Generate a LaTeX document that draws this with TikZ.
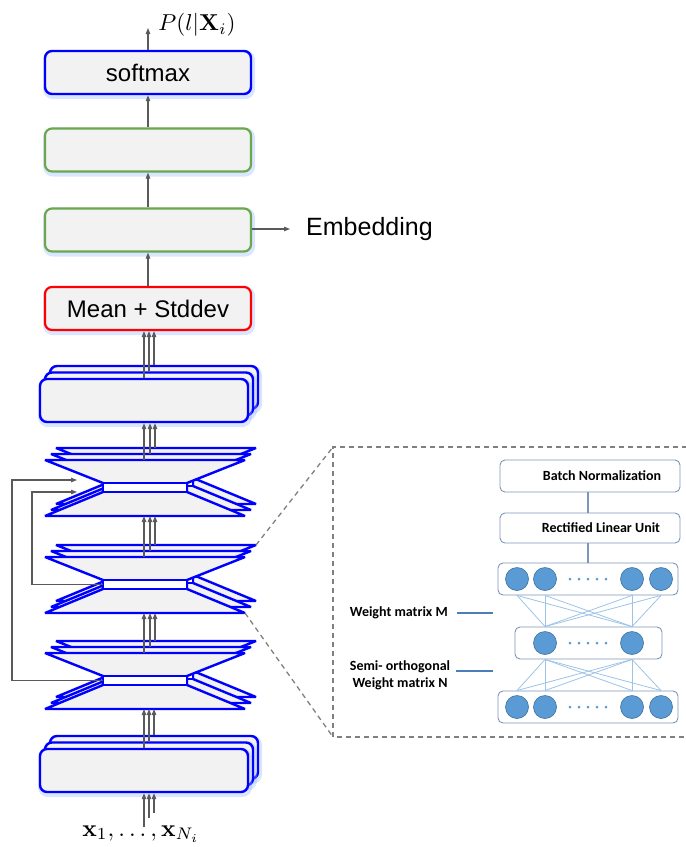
\documentclass[tikz,border=0pt]{standalone}
\usepackage[no-math]{fontspec}
\newfontfamily\arial{Liberation Sans}
\newfontfamily\calib{Carlito}
\usetikzlibrary{arrows.meta,calc}

\definecolor{netblue}{RGB}{0,0,255}
\definecolor{greenc}{RGB}{106,168,79}
\definecolor{redc}{RGB}{255,0,0}
\definecolor{boxfill}{RGB}{242,242,242}
\definecolor{arrc}{RGB}{90,90,90}
\definecolor{glowc}{RGB}{150,180,255}
\definecolor{dashc}{RGB}{128,128,128}
\definecolor{pedge}{RGB}{125,150,185}
\definecolor{neuc}{RGB}{91,155,213}
\definecolor{neuedge}{RGB}{65,113,156}
\definecolor{wirec}{RGB}{157,195,230}
\definecolor{tagline}{RGB}{74,126,187}

% one layer of the hourglass-shaped block, shifted by (#1,#2)
\newcommand{\hglayer}[2]{%
  \begin{scope}[shift={(#1,#2)}]
    \draw[hgline, fill=boxfill] (45,0) -- (245,0) -- (187,23) -- (187,32)
      -- (245,56) -- (45,56) -- (103,32) -- (103,23) -- cycle;
    \draw[hgline, fill=white] (103,23) rectangle (187,32);
  \end{scope}}

% three stacked hourglass layers with named anchor points
\newcommand{\hourglass}[2]{%
  \begin{scope}[shift={(0,#2)}]
    \hglayer{11}{-12}
    \hglayer{6}{-6}
    \hglayer{0}{0}
    \coordinate (#1t0) at (144,0);
    \coordinate (#1t1) at (150,-6);
    \coordinate (#1t2) at (155,-12);
    \coordinate (#1b) at (144,56);
    \coordinate (#1l) at (103,27.5);
    \coordinate (#1ne) at (256,-12);
    \coordinate (#1se) at (245,56);
  \end{scope}}

\begin{document}
\begin{tikzpicture}[x=1pt,y=-1pt,
  arr/.style={draw=arrc, line width=1.1pt, -{Triangle[length=6pt,width=4.5pt]}},
  glow/.style={preaction={draw=glowc, line width=6pt, opacity=0.35,
      transform canvas={yshift=-2pt,xshift=1pt}}},
  box/.style={draw, rounded corners=7pt, fill=boxfill, minimum width=206pt,
      minimum height=43pt, line width=2.2pt, inner sep=0pt,
      font=\arial\fontsize{24}{28}\selectfont, glow},
  bluebox/.style={box, draw=netblue, line width=2.4pt},
  greenbox/.style={box, draw=greenc},
  redbox/.style={box, draw=redc},
  layerbox/.style={bluebox, minimum width=208pt},
  hgline/.style={draw=netblue, line width=2.4pt, line join=miter, miter limit=4},
  dashline/.style={draw=dashc, line width=1.3pt, dash pattern=on 5pt off 4pt},
  pbox/.style={draw=pedge, rounded corners=5pt, line width=0.9pt, fill=white,
      inner sep=0pt, minimum height=32pt, font=\calib\bfseries\fontsize{14}{17}\selectfont},
  neuron/.style={circle, fill=neuc, draw=neuedge, line width=0.6pt,
      minimum size=23pt, inner sep=0pt},
  wire/.style={draw=wirec, line width=0.8pt},
  plabel/.style={font=\calib\bfseries\fontsize{14}{17}\selectfont, inner sep=0pt},
  tagstroke/.style={draw=tagline, line width=1.6pt}
]
\useasboundingbox (0,0) rectangle (686,847);

% ---- output head ----
\node[bluebox] (sm) at (148,72.5) {softmax};
\node[greenbox] (g1) at (148,150) {};
\node[greenbox] (g2) at (148,230) {};
\node[redbox] (mean) at (148,308.5) {Mean + Stddev};

\coordinate (pout) at (148,28);
\node[inner sep=0pt] (plab) at (197,25) {\scalebox{2.3}{$P(l|\mathbf{X}_i)$}};
\draw[arr] (sm.north) -- (pout);
\draw[arr] (g1.north) -- (sm.south);
\draw[arr] (g2.north) -- (g1.south);
\draw[arr] (mean.north) -- (g2.south);

\coordinate (emb) at (290,229);
\draw[arr] (g2.east |- emb) -- (emb);
\node[anchor=west, inner sep=0pt, font=\arial\fontsize{25}{30}\selectfont] (embt) at (306,229) {Embedding};

% ---- upper stacked layer ----
\node[layerbox] (u2) at (154,387.5) {};
\node[layerbox] (u1) at (149,394) {};
\node[layerbox] (u0) at (144,400.5) {};
\draw[arr] (u0.north) -- (u0.north |- mean.south);
\draw[arr] (u1.north) -- (u1.north |- mean.south);
\draw[arr] (u2.north) -- (u2.north |- mean.south);

% ---- hourglass blocks ----
\hourglass{hA}{460}
\hourglass{hB}{557}
\hourglass{hC}{653}

\foreach \k in {0,1,2} \draw[arr] (hAt\k) -- (hAt\k |- u0.south);
\foreach \k in {0,1,2} \draw[arr] (hBt\k) -- (hBt\k |- hAb);
\foreach \k in {0,1,2} \draw[arr] (hCt\k) -- (hCt\k |- hBb);

% ---- lower stacked layer ----
\node[layerbox] (d2) at (154,757.5) {};
\node[layerbox] (d1) at (149,764) {};
\node[layerbox] (d0) at (144,770.5) {};
\draw[arr] (d0.north) -- (d0.north |- hCb);
\draw[arr] (d1.north) -- (d1.north |- hCb);
\draw[arr] (d2.north) -- (d2.north |- hCb);

% ---- inputs ----
\coordinate (in0) at (144,827);
\coordinate (in1) at (149,818);
\coordinate (in2) at (154,813);
\draw[arr] (in0) -- (in0 |- d0.south);
\draw[arr] (in1) -- (in1 |- d0.south);
\draw[arr] (in2) -- (in2 |- d0.south);
\node[inner sep=0pt] (xin) at (141,834)
  {\scalebox{2.4}{$\mathbf{x}_1,\ldots,\mathbf{x}_{N_i}$}};

% ---- skip connections ----
\coordinate (sk1) at (77,480);
\coordinate (sk2) at (77,492);
\draw[arr] (hCl) -- ++(-91,0) |- (sk1);
\draw[arr] (hBl) -- ++(-71,0) |- (sk2);

% ---- detail panel ----
\coordinate (pnw) at (333,447);
\coordinate (psw) at (333,737);
\coordinate (pne) at (687,447);
\coordinate (pse) at (687,737);
\draw[dashline] (pne) -- (pnw) -- (psw) -- (pse);
\draw[dashline] (hBne) -- (pnw);
\draw[dashline] (hBse) -- (psw);

\node[pbox, minimum width=180pt, minimum height=32pt] (bn) at (590,476)
  {\hspace*{24pt}Batch Normalization};
\node[pbox, minimum width=180pt, minimum height=30pt] (relu) at (590,528)
  {\hspace*{22pt}Rectified Linear Unit};
\node[pbox, minimum width=180pt] (top) at (588,579) {};
\node[pbox, minimum width=147pt] (mid) at (588.5,643) {};
\node[pbox, minimum width=180pt] (bot) at (588,707) {};
\draw[draw=pedge, line width=1.4pt] (bn.south -| 588,0) -- (relu.north -| 588,0);
\draw[draw=pedge, line width=1.4pt] (relu.south -| 588,0) -- (top.north -| 588,0);

\node[neuron] (t1) at (517,579) {};
\node[neuron] (t2) at (545,579) {};
\node[neuron] (t3) at (632,579) {};
\node[neuron] (t4) at (661,579) {};
\node[neuron] (m1) at (545,643) {};
\node[neuron] (m2) at (632,643) {};
\node[neuron] (b1) at (517,707) {};
\node[neuron] (b2) at (545,707) {};
\node[neuron] (b3) at (632,707) {};
\node[neuron] (b4) at (661,707) {};
\foreach \yy in {579,643,707}
  \foreach \xx in {570,579,588,597,606}
    \fill[neuc] (\xx,\yy) circle (1.5);

\foreach \a in {t1,t2,t3,t4}
  \foreach \b in {m1,m2}
    \draw[wire] (\a |- top.south) -- (\b |- mid.north);
\foreach \a in {m1,m2}
  \foreach \b in {b1,b2,b3,b4}
    \draw[wire] (\a |- mid.south) -- (\b |- bot.north);

\node[plabel, anchor=east] (lm) at (448,613) {Weight matrix M};
\coordinate (lmend) at (493,613);
\draw[tagstroke, shorten <=9pt] (lm.east) -- (lmend);

\node[plabel, align=center] (ln) at (400,675) {Semi- orthogonal\\Weight matrix N};
\coordinate (lnend) at (493,671);
\draw[tagstroke, shorten <=6pt] (ln.east |- lnend) -- (lnend);
\end{tikzpicture}
\end{document}
